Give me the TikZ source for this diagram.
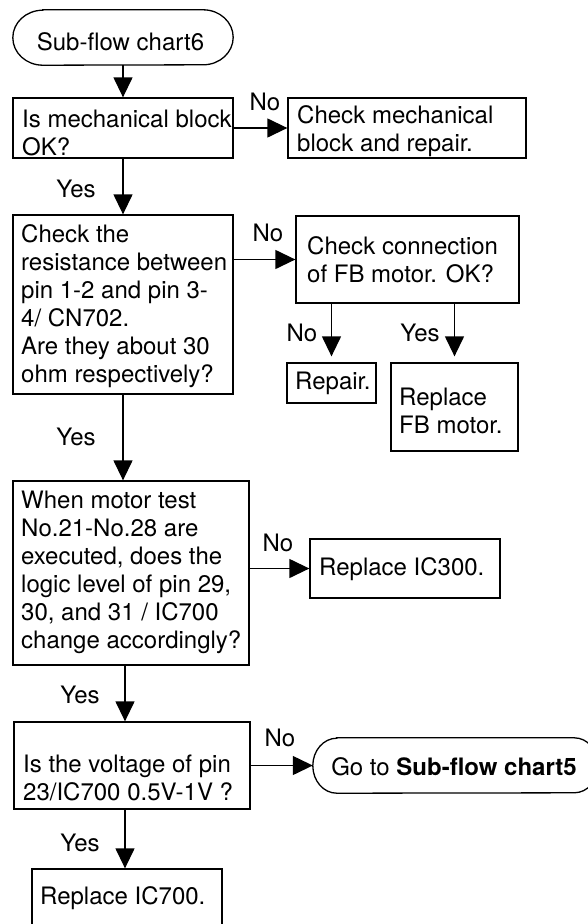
\documentclass[tikz,border=0pt]{standalone}
\usepackage{fontspec}
\setmainfont{TeX Gyre Heros}
\usetikzlibrary{arrows.meta}
\newcommand\drawterm[3]{%
  \draw[line width=1.3pt] ([xshift=#2]#1.north west) -- ([xshift=-#2]#1.north east)
    arc[start angle=90,end angle=-90,x radius=#2,y radius=#3]
    -- ([xshift=#2]#1.south west)
    arc[start angle=270,end angle=90,x radius=#2,y radius=#3] -- cycle;}
\begin{document}
\begin{tikzpicture}[x=1pt,y=-1pt,
  font=\fontsize{24}{28}\selectfont,
  box/.style={draw,line width=1.3pt,rectangle,inner sep=0pt},
  term/.style={rectangle,inner sep=0pt},
  txt/.style={anchor=west,align=left,inner sep=0pt},
  lbl/.style={inner sep=0pt},
  arr/.style={line width=1.3pt,-{Triangle[length=20pt,width=19pt]}}]
\useasboundingbox (0,0) rectangle (588,924);

% shapes
\node[term, minimum width=220, minimum height=55] (s1) at (123,37.5) {};
\drawterm{s1}{30pt}{27.5pt}
\node[box, minimum width=220, minimum height=60] (b1) at (123,128) {};
\node[box, minimum width=238, minimum height=60] (b2) at (407,128) {};
\node[box, minimum width=220, minimum height=179] (b3) at (123,304.5) {};
\node[box, minimum width=223, minimum height=87] (b4) at (407.5,259.5) {};
\node[box, minimum width=89, minimum height=40] (b5) at (331.5,383) {};
\node[box, minimum width=127, minimum height=88] (b6) at (454.5,407) {};
\node[box, minimum width=236, minimum height=184] (b7) at (131,573) {};
\node[box, minimum width=190, minimum height=59] (b8) at (405,568.5) {};
\node[box, minimum width=236, minimum height=87] (b9) at (132,765.5) {};
\node[term, minimum width=285, minimum height=55] (e2) at (455.5,765.5) {};
\drawterm{e2}{24pt}{27.5pt}
\node[box, minimum width=190, minimum height=59] (b10) at (127,898.5) {};

% texts
\node[lbl] (t0) at (120.5,42) {Sub-flow chart6};
\node[lbl] (te) at (454,767) {Go to \textbf{Sub-flow chart5}};
\node[txt] (t1) at (22,132.5) {Is mechanical block\\OK?};
\node[txt] (t2) at (297,131) {Check mechanical\\block and repair.};
\node[txt] (t3) at (21,306) {Check the\\resistance between\\pin 1-2 and pin 3-\\4/ CN702.\\Are they about 30\\ohm respectively?};
\node[txt] (t4) at (307,259.5) {Check connection\\of FB motor. OK?};
\node[txt] (t5) at (295,383) {Repair.};
\node[txt] (t6) at (399,411) {Replace\\FB motor.};
\node[txt] (t7) at (21,572) {When motor test\\No.21-No.28 are\\executed, does the\\logic level of pin 29,\\30, and 31 / IC700\\change accordingly?};
\node[txt] (t8) at (319,569) {Replace IC300.};
\node[txt] (t9) at (23,778) {Is the voltage of pin\\23/IC700 0.5V-1V ?};
\node[txt] (t10) at (40,898) {Replace IC700.};

% labels
\node[lbl] (l1) at (265,102) {No};
\node[lbl] (l2) at (76,189) {Yes};
\node[lbl] (l3) at (268,233) {No};
\node[lbl] (l4) at (302,333) {No};
\node[lbl] (l5) at (420,333) {Yes};
\node[lbl] (l6) at (76,437) {Yes};
\node[lbl] (l7) at (278,543) {No};
\node[lbl] (l8) at (80,695) {Yes};
\node[lbl] (l9) at (280,738) {No};
\node[lbl] (l10) at (80,843) {Yes};

% connectors
\draw[arr] (s1.south) -- (b1.north);
\draw[arr] (b1.east) -- (b2.west);
\draw[arr] (b1.south) -- (b3.north);
\draw[arr] (b3.east |- b4.west) -- (b4.west);
\draw[arr,shorten >=6pt] (b4.south -| b5.north) -- (b5.north);
\draw[arr,shorten >=6pt] (b4.south -| b6.north) -- (b6.north);
\draw[arr] (b3.south) -- (b3.south |- b7.north);
\draw[arr] (b7.east |- b8.west) -- (b8.west);
\draw[arr] ([xshift=-6pt]b7.south) -- ([xshift=-6pt]b7.south |- b9.north);
\draw[arr] (b9.east) -- (e2.west);
\draw[arr] ([xshift=-7pt]b9.south) -- ([xshift=-7pt]b9.south |- b10.north);
\end{tikzpicture}
\end{document}
